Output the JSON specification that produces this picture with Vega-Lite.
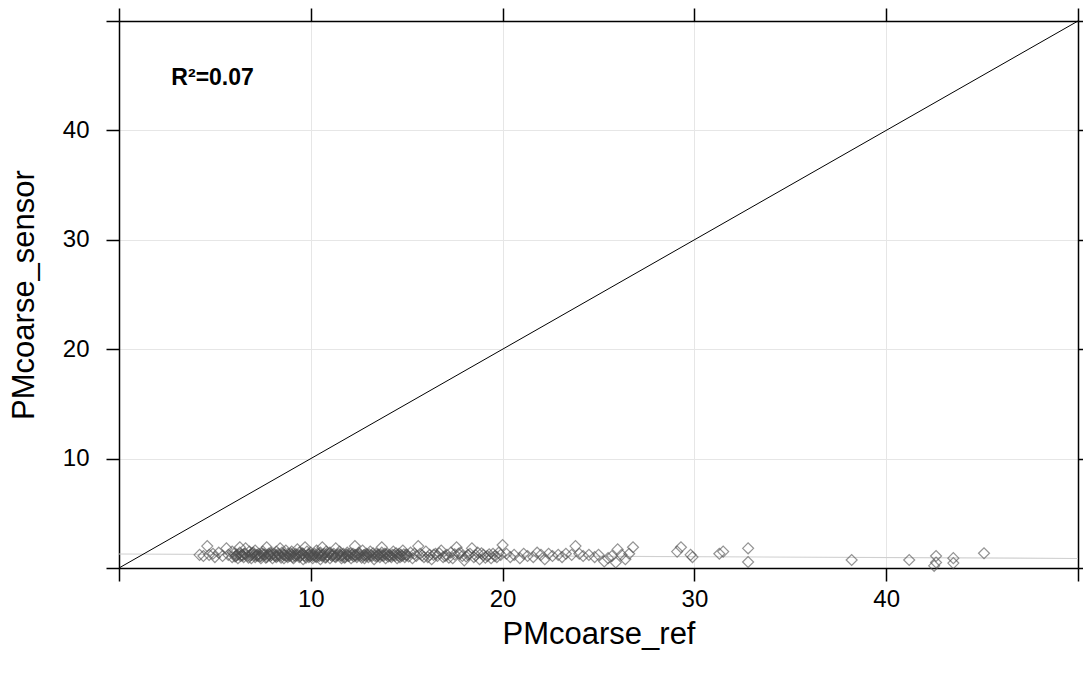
{
  "$schema": "https://vega.github.io/schema/vega-lite/v6.json",
  "width": 959,
  "height": 547,
  "autosize": {"type": "none"},
  "padding": {"left": 119, "top": 21, "right": 5, "bottom": 113},
  "background": "white",
  "config": {
    "font": "Liberation Sans",
    "view": {"stroke": null},
    "axis": {
      "domainColor": "black",
      "domainWidth": 1.5,
      "tickColor": "black",
      "tickWidth": 1.5,
      "labelColor": "black",
      "titleColor": "black",
      "labelFont": "Liberation Sans",
      "titleFont": "Liberation Sans",
      "titleFontWeight": "normal"
    }
  },
  "datasets": {
    "points": [
      {"ref": 4.2, "sensor": 1.2}, {"ref": 4.4, "sensor": 1.1}, {"ref": 4.6, "sensor": 2.0}, {"ref": 4.7, "sensor": 1.2},
      {"ref": 4.9, "sensor": 1.3}, {"ref": 5.0, "sensor": 1.0}, {"ref": 5.2, "sensor": 1.4}, {"ref": 5.4, "sensor": 1.1},
      {"ref": 5.6, "sensor": 1.8}, {"ref": 5.7, "sensor": 1.2}, {"ref": 5.9, "sensor": 1.0}, {"ref": 5.9, "sensor": 1.5},
      {"ref": 6.0, "sensor": 1.3}, {"ref": 6.1, "sensor": 1.1}, {"ref": 6.2, "sensor": 0.9}, {"ref": 6.3, "sensor": 1.9},
      {"ref": 6.3, "sensor": 1.4}, {"ref": 6.4, "sensor": 1.2}, {"ref": 6.5, "sensor": 1.0}, {"ref": 6.6, "sensor": 1.8},
      {"ref": 6.6, "sensor": 1.3}, {"ref": 6.7, "sensor": 1.1}, {"ref": 6.8, "sensor": 1.5}, {"ref": 6.9, "sensor": 0.9},
      {"ref": 6.9, "sensor": 1.2}, {"ref": 7.0, "sensor": 1.4}, {"ref": 7.1, "sensor": 1.0}, {"ref": 7.1, "sensor": 1.6},
      {"ref": 7.2, "sensor": 1.2}, {"ref": 7.3, "sensor": 1.3}, {"ref": 7.4, "sensor": 0.9}, {"ref": 7.4, "sensor": 1.1},
      {"ref": 7.5, "sensor": 1.5}, {"ref": 7.6, "sensor": 1.2}, {"ref": 7.7, "sensor": 1.9}, {"ref": 7.7, "sensor": 1.0},
      {"ref": 7.8, "sensor": 1.3}, {"ref": 7.9, "sensor": 1.1}, {"ref": 7.9, "sensor": 1.4}, {"ref": 8.0, "sensor": 0.9},
      {"ref": 8.1, "sensor": 1.2}, {"ref": 8.2, "sensor": 1.5}, {"ref": 8.2, "sensor": 1.0}, {"ref": 8.3, "sensor": 1.3},
      {"ref": 8.4, "sensor": 1.8}, {"ref": 8.4, "sensor": 1.1}, {"ref": 8.5, "sensor": 1.4}, {"ref": 8.6, "sensor": 0.9},
      {"ref": 8.6, "sensor": 1.2}, {"ref": 8.7, "sensor": 1.6}, {"ref": 8.8, "sensor": 1.0}, {"ref": 8.8, "sensor": 1.3},
      {"ref": 8.9, "sensor": 1.1}, {"ref": 9.0, "sensor": 1.5}, {"ref": 9.0, "sensor": 1.2}, {"ref": 9.1, "sensor": 0.9},
      {"ref": 9.2, "sensor": 1.3}, {"ref": 9.2, "sensor": 1.1}, {"ref": 9.3, "sensor": 1.7}, {"ref": 9.4, "sensor": 1.0},
      {"ref": 9.4, "sensor": 1.4}, {"ref": 9.5, "sensor": 1.2}, {"ref": 9.6, "sensor": 0.8}, {"ref": 9.6, "sensor": 1.3},
      {"ref": 9.7, "sensor": 1.9}, {"ref": 9.7, "sensor": 1.1}, {"ref": 9.8, "sensor": 1.5}, {"ref": 9.9, "sensor": 1.0},
      {"ref": 9.9, "sensor": 1.2}, {"ref": 10.0, "sensor": 1.4}, {"ref": 10.1, "sensor": 1.1}, {"ref": 10.1, "sensor": 0.9},
      {"ref": 10.2, "sensor": 1.3}, {"ref": 10.3, "sensor": 1.6}, {"ref": 10.3, "sensor": 1.0}, {"ref": 10.4, "sensor": 1.2},
      {"ref": 10.5, "sensor": 1.4}, {"ref": 10.5, "sensor": 0.8}, {"ref": 10.6, "sensor": 1.9}, {"ref": 10.6, "sensor": 1.1},
      {"ref": 10.7, "sensor": 1.3}, {"ref": 10.8, "sensor": 1.0}, {"ref": 10.8, "sensor": 1.5}, {"ref": 10.9, "sensor": 1.2},
      {"ref": 11.0, "sensor": 0.9}, {"ref": 11.0, "sensor": 1.4}, {"ref": 11.1, "sensor": 1.1}, {"ref": 11.2, "sensor": 1.3},
      {"ref": 11.3, "sensor": 1.8}, {"ref": 11.3, "sensor": 1.0}, {"ref": 11.4, "sensor": 1.2}, {"ref": 11.5, "sensor": 1.5},
      {"ref": 11.6, "sensor": 0.9}, {"ref": 11.6, "sensor": 1.1}, {"ref": 11.7, "sensor": 1.3}, {"ref": 11.8, "sensor": 1.0},
      {"ref": 11.9, "sensor": 1.4}, {"ref": 11.9, "sensor": 1.2}, {"ref": 12.0, "sensor": 1.1}, {"ref": 12.1, "sensor": 0.9},
      {"ref": 12.2, "sensor": 1.3}, {"ref": 12.3, "sensor": 2.0}, {"ref": 12.3, "sensor": 1.2}, {"ref": 12.4, "sensor": 1.0},
      {"ref": 12.5, "sensor": 1.4}, {"ref": 12.6, "sensor": 1.1}, {"ref": 12.7, "sensor": 1.6}, {"ref": 12.8, "sensor": 0.9},
      {"ref": 12.8, "sensor": 1.2}, {"ref": 12.9, "sensor": 1.3}, {"ref": 13.0, "sensor": 1.0}, {"ref": 13.1, "sensor": 1.5},
      {"ref": 13.2, "sensor": 1.1}, {"ref": 13.3, "sensor": 0.8}, {"ref": 13.4, "sensor": 1.3}, {"ref": 13.5, "sensor": 1.2},
      {"ref": 13.6, "sensor": 1.0}, {"ref": 13.7, "sensor": 1.9}, {"ref": 13.7, "sensor": 1.4}, {"ref": 13.8, "sensor": 1.1},
      {"ref": 13.9, "sensor": 0.9}, {"ref": 14.0, "sensor": 1.3}, {"ref": 14.1, "sensor": 1.2}, {"ref": 14.2, "sensor": 1.0},
      {"ref": 14.3, "sensor": 1.5}, {"ref": 14.4, "sensor": 1.1}, {"ref": 14.5, "sensor": 0.9}, {"ref": 14.6, "sensor": 1.3},
      {"ref": 14.7, "sensor": 1.2}, {"ref": 14.8, "sensor": 1.6}, {"ref": 14.9, "sensor": 1.0}, {"ref": 15.0, "sensor": 1.2},
      {"ref": 6.05, "sensor": 1.05}, {"ref": 6.25, "sensor": 1.25}, {"ref": 6.45, "sensor": 1.15}, {"ref": 6.75, "sensor": 0.95},
      {"ref": 6.95, "sensor": 1.35}, {"ref": 7.15, "sensor": 1.15}, {"ref": 7.35, "sensor": 1.05}, {"ref": 7.55, "sensor": 1.25},
      {"ref": 7.65, "sensor": 0.95}, {"ref": 7.85, "sensor": 1.2}, {"ref": 8.05, "sensor": 1.3}, {"ref": 8.25, "sensor": 1.1},
      {"ref": 8.45, "sensor": 0.95}, {"ref": 8.55, "sensor": 1.25}, {"ref": 8.75, "sensor": 1.1}, {"ref": 8.95, "sensor": 1.35},
      {"ref": 9.05, "sensor": 1.0}, {"ref": 9.25, "sensor": 1.2}, {"ref": 9.45, "sensor": 1.1}, {"ref": 9.55, "sensor": 1.35},
      {"ref": 9.75, "sensor": 0.95}, {"ref": 9.85, "sensor": 1.25}, {"ref": 10.05, "sensor": 1.2}, {"ref": 10.25, "sensor": 1.05},
      {"ref": 10.35, "sensor": 1.3}, {"ref": 10.55, "sensor": 1.15}, {"ref": 10.75, "sensor": 0.95}, {"ref": 10.95, "sensor": 1.35},
      {"ref": 11.05, "sensor": 1.2}, {"ref": 11.25, "sensor": 1.05}, {"ref": 11.45, "sensor": 1.3}, {"ref": 11.55, "sensor": 1.15},
      {"ref": 11.75, "sensor": 0.95}, {"ref": 11.85, "sensor": 1.2}, {"ref": 12.05, "sensor": 1.35}, {"ref": 12.25, "sensor": 1.05},
      {"ref": 12.45, "sensor": 1.2}, {"ref": 12.65, "sensor": 0.95}, {"ref": 12.85, "sensor": 1.1}, {"ref": 13.05, "sensor": 1.25},
      {"ref": 13.25, "sensor": 1.35}, {"ref": 13.45, "sensor": 1.05}, {"ref": 13.65, "sensor": 1.2}, {"ref": 13.85, "sensor": 1.3},
      {"ref": 14.05, "sensor": 1.05}, {"ref": 14.25, "sensor": 1.2}, {"ref": 14.45, "sensor": 1.35}, {"ref": 14.65, "sensor": 1.0},
      {"ref": 14.85, "sensor": 1.25}, {"ref": 15.1, "sensor": 1.05}, {"ref": 15.4, "sensor": 1.3}, {"ref": 15.8, "sensor": 1.15},
      {"ref": 16.1, "sensor": 1.0}, {"ref": 16.4, "sensor": 1.2}, {"ref": 16.7, "sensor": 1.35}, {"ref": 17.0, "sensor": 1.1},
      {"ref": 17.2, "sensor": 0.95}, {"ref": 17.5, "sensor": 1.25}, {"ref": 17.8, "sensor": 1.4}, {"ref": 18.1, "sensor": 1.05},
      {"ref": 18.3, "sensor": 1.3}, {"ref": 18.6, "sensor": 1.15}, {"ref": 18.9, "sensor": 1.35}, {"ref": 19.1, "sensor": 0.95},
      {"ref": 19.3, "sensor": 1.25}, {"ref": 19.6, "sensor": 1.1}, {"ref": 19.8, "sensor": 1.4},
      {"ref": 6.15, "sensor": 1.2}, {"ref": 6.35, "sensor": 1.1}, {"ref": 6.55, "sensor": 1.3}, {"ref": 6.85, "sensor": 1.15},
      {"ref": 7.05, "sensor": 1.2}, {"ref": 7.25, "sensor": 1.1}, {"ref": 7.45, "sensor": 1.3}, {"ref": 7.75, "sensor": 1.15},
      {"ref": 7.95, "sensor": 1.2}, {"ref": 8.15, "sensor": 1.1}, {"ref": 8.35, "sensor": 1.2}, {"ref": 8.65, "sensor": 1.15},
      {"ref": 8.85, "sensor": 1.2}, {"ref": 9.15, "sensor": 1.15}, {"ref": 9.35, "sensor": 1.2}, {"ref": 9.65, "sensor": 1.15},
      {"ref": 9.95, "sensor": 1.1}, {"ref": 10.15, "sensor": 1.2}, {"ref": 10.45, "sensor": 1.1}, {"ref": 10.65, "sensor": 1.2},
      {"ref": 10.85, "sensor": 1.15}, {"ref": 11.15, "sensor": 1.2}, {"ref": 11.35, "sensor": 1.15}, {"ref": 11.65, "sensor": 1.2},
      {"ref": 11.95, "sensor": 1.1}, {"ref": 12.15, "sensor": 1.2}, {"ref": 12.35, "sensor": 1.15}, {"ref": 12.55, "sensor": 1.25},
      {"ref": 12.75, "sensor": 1.15}, {"ref": 12.95, "sensor": 1.2}, {"ref": 13.15, "sensor": 1.15}, {"ref": 13.35, "sensor": 1.1},
      {"ref": 13.55, "sensor": 1.2}, {"ref": 13.75, "sensor": 1.15}, {"ref": 13.95, "sensor": 1.2}, {"ref": 14.15, "sensor": 1.1},
      {"ref": 14.35, "sensor": 1.2}, {"ref": 14.55, "sensor": 1.15}, {"ref": 14.75, "sensor": 1.1}, {"ref": 14.95, "sensor": 1.2},
      {"ref": 15.2, "sensor": 1.4}, {"ref": 15.3, "sensor": 0.9}, {"ref": 15.5, "sensor": 1.1}, {"ref": 15.6, "sensor": 2.0},
      {"ref": 15.7, "sensor": 1.3}, {"ref": 15.9, "sensor": 1.0}, {"ref": 16.0, "sensor": 1.5}, {"ref": 16.2, "sensor": 1.2},
      {"ref": 16.3, "sensor": 0.8}, {"ref": 16.5, "sensor": 1.3}, {"ref": 16.6, "sensor": 1.1}, {"ref": 16.8, "sensor": 1.6},
      {"ref": 16.9, "sensor": 1.0}, {"ref": 17.1, "sensor": 1.2}, {"ref": 17.3, "sensor": 1.4}, {"ref": 17.4, "sensor": 0.9},
      {"ref": 17.6, "sensor": 1.9}, {"ref": 17.7, "sensor": 1.3}, {"ref": 17.9, "sensor": 1.1}, {"ref": 18.0, "sensor": 0.7},
      {"ref": 18.2, "sensor": 1.2}, {"ref": 18.4, "sensor": 1.8}, {"ref": 18.5, "sensor": 1.0}, {"ref": 18.7, "sensor": 1.4},
      {"ref": 18.8, "sensor": 0.8}, {"ref": 19.0, "sensor": 1.2}, {"ref": 19.2, "sensor": 1.1}, {"ref": 19.4, "sensor": 0.9},
      {"ref": 19.5, "sensor": 1.3}, {"ref": 19.7, "sensor": 1.0}, {"ref": 19.9, "sensor": 1.2}, {"ref": 20.0, "sensor": 2.1},
      {"ref": 20.2, "sensor": 1.3}, {"ref": 20.4, "sensor": 1.0}, {"ref": 20.6, "sensor": 1.2}, {"ref": 20.9, "sensor": 0.9},
      {"ref": 21.1, "sensor": 1.3}, {"ref": 21.3, "sensor": 1.1}, {"ref": 21.6, "sensor": 1.0}, {"ref": 21.8, "sensor": 1.4},
      {"ref": 22.0, "sensor": 1.2}, {"ref": 22.2, "sensor": 0.8}, {"ref": 22.4, "sensor": 1.3}, {"ref": 22.6, "sensor": 1.1},
      {"ref": 22.9, "sensor": 1.2}, {"ref": 23.1, "sensor": 1.0}, {"ref": 23.3, "sensor": 1.3}, {"ref": 23.6, "sensor": 1.2},
      {"ref": 23.8, "sensor": 2.0}, {"ref": 24.0, "sensor": 1.3}, {"ref": 24.2, "sensor": 1.1}, {"ref": 24.5, "sensor": 1.2},
      {"ref": 24.8, "sensor": 1.0}, {"ref": 25.0, "sensor": 1.2}, {"ref": 25.3, "sensor": 0.6}, {"ref": 25.5, "sensor": 0.9},
      {"ref": 25.7, "sensor": 1.1}, {"ref": 25.9, "sensor": 0.5}, {"ref": 26.0, "sensor": 1.7}, {"ref": 26.2, "sensor": 1.2},
      {"ref": 26.4, "sensor": 0.8}, {"ref": 26.6, "sensor": 1.3}, {"ref": 26.8, "sensor": 1.9},
      {"ref": 29.1, "sensor": 1.5}, {"ref": 29.3, "sensor": 1.9}, {"ref": 29.8, "sensor": 1.2}, {"ref": 29.9, "sensor": 1.0},
      {"ref": 31.3, "sensor": 1.3}, {"ref": 31.5, "sensor": 1.5}, {"ref": 32.8, "sensor": 1.8}, {"ref": 32.8, "sensor": 0.55},
      {"ref": 38.2, "sensor": 0.73}, {"ref": 41.2, "sensor": 0.73}, {"ref": 42.6, "sensor": 1.1}, {"ref": 42.6, "sensor": 0.5},
      {"ref": 42.5, "sensor": 0.2}, {"ref": 43.5, "sensor": 0.9}, {"ref": 43.5, "sensor": 0.45}, {"ref": 45.1, "sensor": 1.35}
    ],
    "diag": [{"ref": 0, "sensor": 0}, {"ref": 50, "sensor": 50}],
    "fit": [{"ref": 0, "sensor": 1.28}, {"ref": 50, "sensor": 0.87}],
    "note": [{"ref": 4.88, "sensor": 44.8, "text": "R²=0.07"}]
  },
  "layer": [
    {
      "data": {"name": "diag"},
      "mark": {"type": "line", "opacity": 0},
      "encoding": {
        "x": {
          "field": "ref", "type": "quantitative",
          "scale": {"domain": [0, 50], "nice": false, "zero": false},
          "axis": {
            "orient": "bottom", "title": "PMcoarse_ref",
            "values": [0, 10, 20, 30, 40, 50],
            "labelExpr": "datum.value == 0 || datum.value == 50 ? '' : datum.label",
            "tickSize": 13, "labelPadding": 6, "labelFontSize": 24,
            "titleFontSize": 31, "titleY": 75, "titleBaseline": "alphabetic",
            "grid": true, "gridColor": "#e6e6e6", "gridWidth": 1,
            "gridOpacity": {"condition": {"test": "datum.value == 0 || datum.value == 50", "value": 0}, "value": 1}
          }
        },
        "y": {
          "field": "sensor", "type": "quantitative",
          "scale": {"domain": [0, 50], "nice": false, "zero": false},
          "axis": {
            "orient": "left", "title": "PMcoarse_sensor",
            "values": [0, 10, 20, 30, 40, 50],
            "labelExpr": "datum.value == 0 || datum.value == 50 ? '' : datum.label",
            "tickSize": 13, "labelPadding": 17, "labelFontSize": 24,
            "titleFontSize": 31, "titleX": -86, "titleBaseline": "alphabetic", "titleAngle": -90,
            "grid": true, "gridColor": "#e6e6e6", "gridWidth": 1,
            "gridOpacity": {"condition": {"test": "datum.value == 0 || datum.value == 50", "value": 0}, "value": 1}
          }
        }
      }
    },
    {
      "data": {"name": "fit"},
      "mark": {"type": "line", "color": "#d0d0d0", "strokeWidth": 1.2},
      "encoding": {
        "x": {"field": "ref", "type": "quantitative", "axis": null},
        "y": {"field": "sensor", "type": "quantitative", "axis": null}
      }
    },
    {
      "data": {"name": "points"},
      "mark": {"type": "point", "shape": "diamond", "filled": false, "size": 120, "color": "#4d4d4d", "strokeWidth": 1.2, "opacity": 0.6},
      "encoding": {
        "x": {"field": "ref", "type": "quantitative", "axis": null},
        "y": {"field": "sensor", "type": "quantitative", "axis": null}
      }
    },
    {
      "data": {"name": "diag"},
      "mark": {"type": "line", "color": "black", "strokeWidth": 1},
      "encoding": {
        "x": {"field": "ref", "type": "quantitative", "axis": null},
        "y": {"field": "sensor", "type": "quantitative", "axis": null}
      }
    },
    {
      "data": {"name": "note"},
      "mark": {"type": "text", "font": "Liberation Sans", "fontSize": 23, "fontWeight": "bold", "align": "center", "baseline": "middle", "color": "black"},
      "encoding": {
        "x": {"field": "ref", "type": "quantitative", "axis": null},
        "y": {"field": "sensor", "type": "quantitative", "axis": null},
        "text": {"field": "text", "type": "nominal"}
      }
    },
    {
      "data": {"name": "diag"},
      "mark": {"type": "line", "opacity": 0},
      "encoding": {
        "x": {
          "field": "ref", "type": "quantitative",
          "axis": {"orient": "top", "title": null, "values": [0, 10, 20, 30, 40, 50], "labels": false, "tickSize": 13, "grid": false}
        },
        "y": {
          "field": "sensor", "type": "quantitative",
          "axis": {"orient": "right", "title": null, "values": [0, 10, 20, 30, 40, 50], "labels": false, "tickSize": 13, "grid": false}
        }
      }
    }
  ],
  "resolve": {"axis": {"x": "independent", "y": "independent"}}
}
